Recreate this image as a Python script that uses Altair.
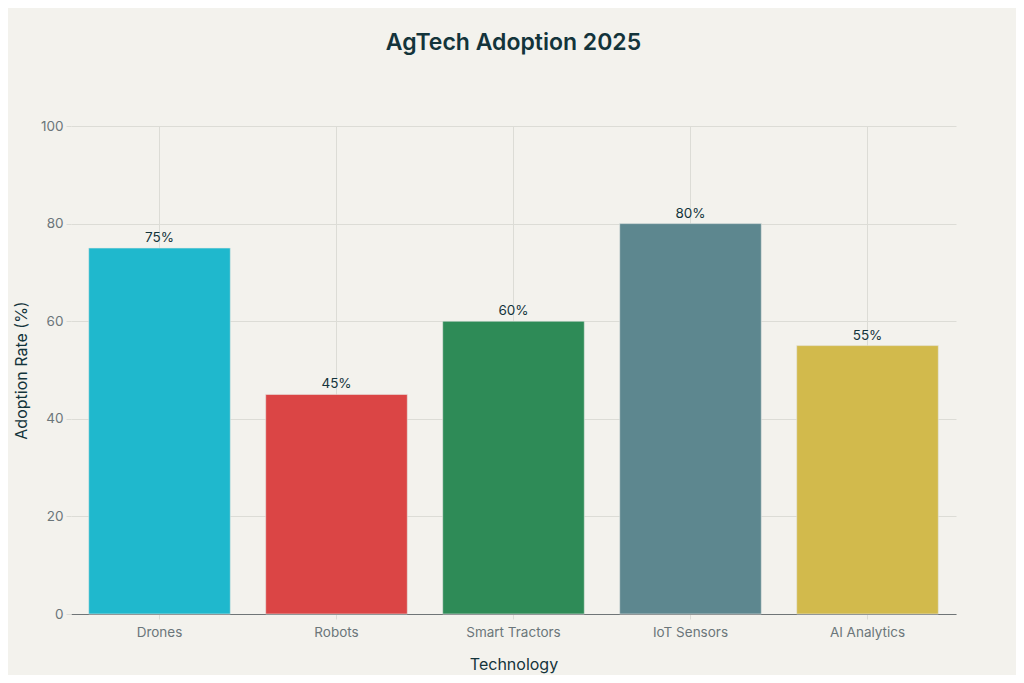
import altair as alt
import pandas as pd

categories = ["Drones", "Robots", "Smart Tractors", "IoT Sensors", "AI Analytics"]
values = [75, 45, 60, 80, 55]
colors = ["#1FB8CD", "#DB4545", "#2E8B57", "#5D878F", "#D2BA4C"]

df = pd.DataFrame({"Technology": categories, "Rate": values,
                   "Label": [f"{v}%" for v in values]})

FONT = "Inter"

x = alt.X("Technology:N", sort=categories, title="Technology",
          scale=alt.Scale(paddingInner=0.2, paddingOuter=0.1),
          axis=alt.Axis(labelAngle=0, grid=True, gridColor="#dcdcd6",
                        domainColor="#6f7577", tickColor="#dcdcd6", tickSize=5,
                        labelColor="#6b767a", labelFontSize=13.5, labelPadding=6,
                        titleColor="#13343b", titleFontSize=16, titleFontWeight="normal",
                        titlePadding=18, labelFont=FONT, titleFont=FONT))
y = alt.Y("Rate:Q", title="Adoption Rate (%)",
          scale=alt.Scale(domain=[0, 100]),
          axis=alt.Axis(values=[0, 20, 40, 60, 80, 100], grid=True, gridColor="#dcdcd6",
                        domain=False, tickColor="#dcdcd6", tickSize=5,
                        labelColor="#6b767a", labelFontSize=13.5, labelPadding=3,
                        titleColor="#13343b", titleFontSize=16, titleFontWeight="normal",
                        titlePadding=11, labelFont=FONT, titleFont=FONT))

bars = alt.Chart(df).mark_bar(stroke="#e6e8e4", strokeWidth=1, strokeOpacity=0.6).encode(
    x=x, y=y,
    color=alt.Color("Technology:N", sort=categories,
                    scale=alt.Scale(domain=categories, range=colors), legend=None),
)

labels = alt.Chart(df).mark_text(dy=-10, fontSize=13.5, color="#13343b", font=FONT).encode(
    x=alt.X("Technology:N", sort=categories),
    y="Rate:Q",
    text="Label:N",
)

chart = (bars + labels).properties(
    width=885, height=488,
    autosize=alt.AutoSizeParams(type="none"),
    padding={"left": 63, "top": 118, "right": 60, "bottom": 61},
    background="#f3f2ed",
    title=alt.Title("AgTech Adoption 2025", fontSize=23, font=FONT, fontWeight=600,
                    color="#13343b", anchor="middle", offset=64),
).configure_view(stroke=None)

chart.save("out.html", embed_options={"renderer": "svg", "actions": False})
